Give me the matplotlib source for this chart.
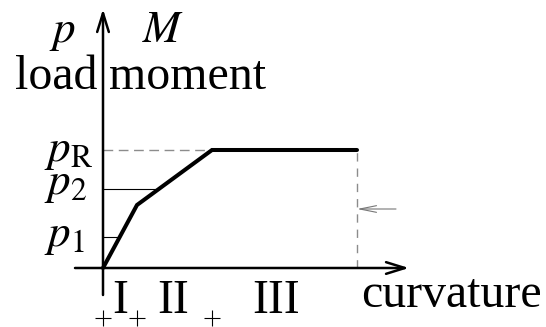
import numpy as np
import matplotlib.pyplot as plt

# moment-curvature diagram, units roughly in pixels of the sketch
kappa = [0, 34, 109, 254]          # curvature breakpoints (end of I, II, III)
moment = [0, 63, 118, 118]         # load / moment at the breakpoints
p_levels = [31, 79, 118]           # p1, p2, pR
p_names = [r'$p_1$', r'$p_2$', r'$p_\mathrm{R}$']
regions = ['I', 'II', 'III']
region_x = [17, 70, 173]

plt.rcParams['mathtext.fontset'] = 'stix'
plt.rcParams['font.family'] = ['Liberation Serif', 'DejaVu Serif']

fig = plt.figure(figsize=(5.46, 3.27), dpi=100)
ax = fig.add_axes([0, 0, 1, 1])
ax.set_xlim(-103, 443)
ax.set_ylim(-59, 268)
ax.axis('off')

big = 34.5
small = 32.5

# axes with open arrow heads
head = dict(arrowstyle='->,head_length=0.45,head_width=0.14', mutation_scale=30,
            lw=1.8, color='black', shrinkA=0, shrinkB=0)
ax.annotate('', xy=(0, 259), xytext=(0, -27), arrowprops=head)
ax.annotate('', xy=(306, 0), xytext=(-28, 0), arrowprops=head)

# thin guide lines from the axis to the curve
k = np.array(kappa, dtype=float)
m = np.array(moment, dtype=float)
for lev in p_levels[:2]:
    xc = np.interp(lev, m[:3], k[:3])
    ax.plot([0, xc], [lev, lev], color='black', lw=0.8)
ax.plot([0, kappa[2]], [p_levels[2], p_levels[2]], color='#8c8c8c', lw=1.0,
        dashes=(7, 4))
ax.plot([kappa[-1], kappa[-1]], [0, moment[-1]], color='#8c8c8c', lw=1.0,
        dashes=(6, 5))

# the curve itself
ax.plot(kappa, moment, color='black', lw=2.9, solid_capstyle='round',
        solid_joinstyle='miter')

# small arrow pointing at the end of the curve
ax.annotate('', xy=(kappa[-1], 59), xytext=(293, 59),
            arrowprops=dict(arrowstyle='->,head_length=0.6,head_width=0.12',
                            mutation_scale=20, lw=0.8, color='#777777',
                            shrinkA=0, shrinkB=0))

# region boundary ticks
ax.plot(kappa[:3], [-50] * 3, '+', color='black', ms=12, mew=0.8)

for name, x in zip(regions, region_x):
    ax.text(x, -45, name, fontsize=big, ha='center', va='baseline')
ax.text(258, -39, 'curvature', fontsize=big, ha='left', va='baseline')

ax.text(-6, 179, 'load', fontsize=big, ha='right', va='baseline')
ax.text(6, 179, 'moment', fontsize=big, ha='left', va='baseline')
ax.text(-41, 226, r'$p$', fontsize=small, ha='center', va='baseline')
ax.text(60, 226, r'$M$', fontsize=small, ha='center', va='baseline')

label_base = [22, 74, 107]
for name, yb in zip(p_names, label_base):
    ax.text(-59, yb, name, fontsize=small, ha='left', va='baseline')

fig.savefig('out.png', dpi=100)
